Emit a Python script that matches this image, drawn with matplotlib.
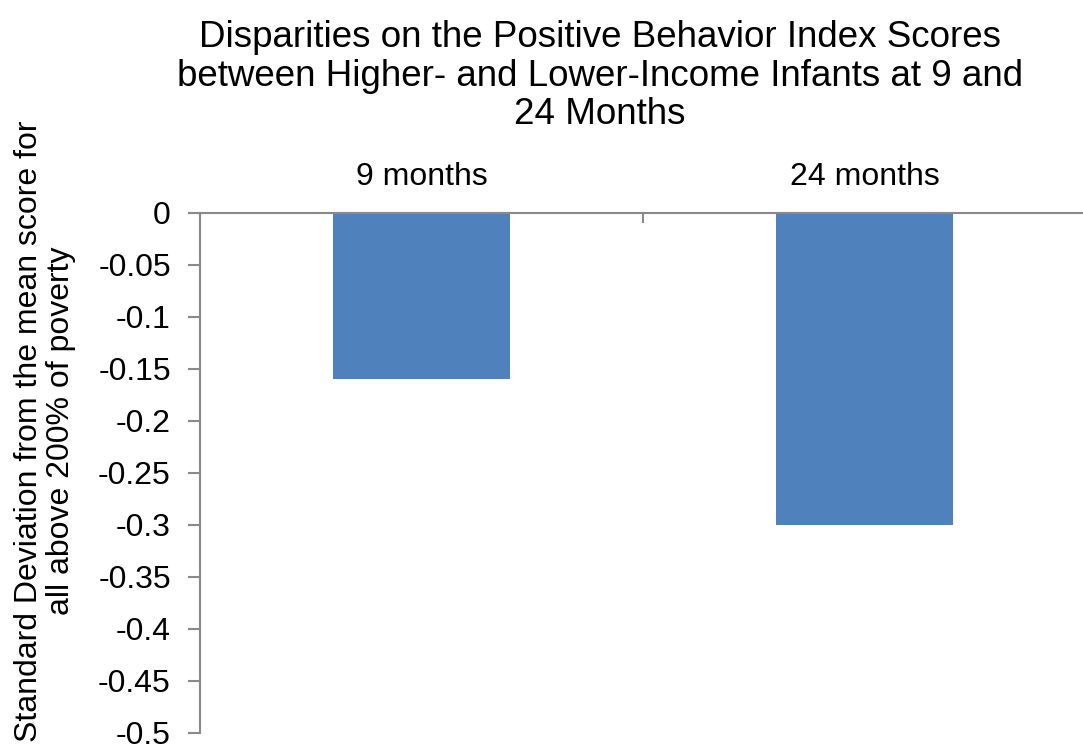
import matplotlib.pyplot as plt
from matplotlib.ticker import FixedLocator

plt.rcParams['font.family'] = ['Liberation Sans', 'DejaVu Sans']

categories = ['9 months', '24 months']
values = [-0.16, -0.30]
y_ticks = [0, -0.05, -0.1, -0.15, -0.2, -0.25, -0.3, -0.35, -0.4, -0.45, -0.5]
y_labels = ['0', '-0.05', '-0.1', '-0.15', '-0.2', '-0.25', '-0.3', '-0.35', '-0.4', '-0.45', '-0.5']

W, H = 1083, 746
fig = plt.figure(figsize=(W / 100, H / 100), dpi=100)
ax = fig.add_axes([200 / W, 13 / H, 886 / W, 520 / H])

x = list(range(len(categories)))
ax.bar(x, values, width=0.4, color='#4F81BD', zorder=2)

ax.set_xlim(-0.5, 1.5)
ax.set_ylim(-0.5, 0)
ax.set_yticks(y_ticks)
ax.set_yticklabels(y_labels, fontsize=23)

# category labels above the zero line
ax.xaxis.tick_top()
ax.set_xticks(x)
ax.set_xticklabels(categories, fontsize=23)
ax.tick_params(axis='x', which='major', length=0, pad=15)
ax.xaxis.set_minor_locator(FixedLocator([0.5]))
ax.tick_params(axis='x', which='minor', direction='in', length=7, width=1.5, color='#898989')
ax.tick_params(axis='y', direction='out', length=9, width=1.5, color='#898989', pad=12)

for s in ['right', 'bottom']:
    ax.spines[s].set_visible(False)
ax.spines['top'].set_color('#898989')
ax.spines['top'].set_linewidth(1.5)
ax.spines['left'].set_color('#898989')
ax.spines['left'].set_linewidth(1.5)

fig.text(600 / W, 1 - 20 / H,
         'Disparities on the Positive Behavior Index Scores\n'
         'between Higher- and Lower-Income Infants at 9 and\n24 Months',
         ha='center', va='top', fontsize=26.5, linespacing=1.13)
fig.text(45 / W, 1 - 431 / H,
         'Standard Deviation from the mean score for\nall above 200% of poverty',
         ha='center', va='center', rotation=90, fontsize=23, linespacing=1.1)

fig.savefig('out.png', dpi=100)
